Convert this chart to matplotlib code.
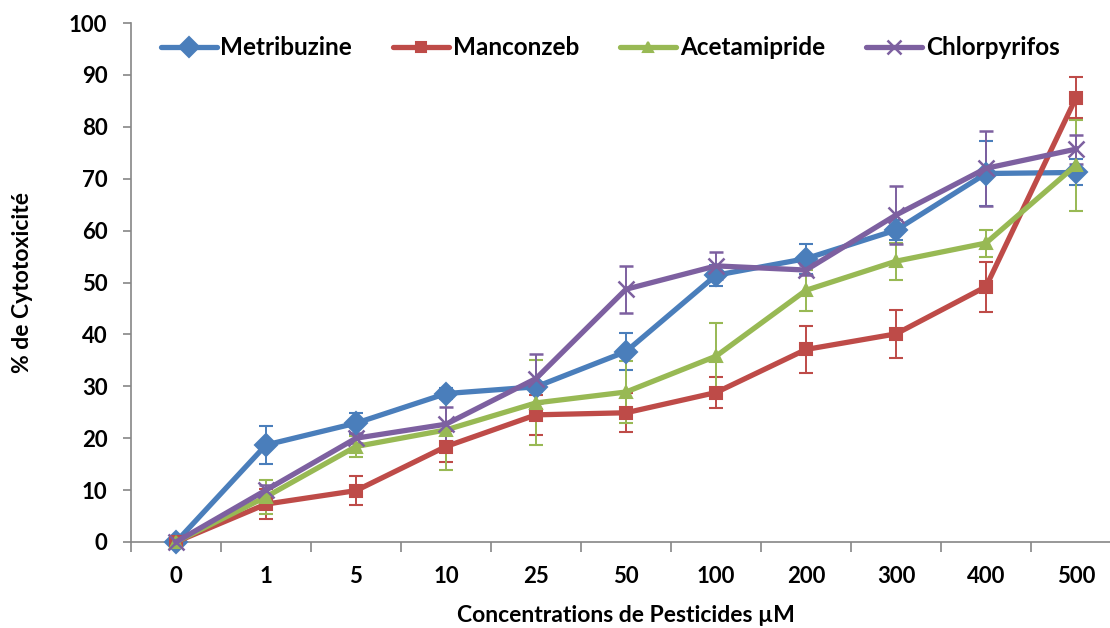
import matplotlib
matplotlib.use("Agg")
import matplotlib.pyplot as plt
from matplotlib.lines import Line2D
import numpy as np

plt.rcParams['font.family'] = ['Lato', 'DejaVu Sans']

categories = ["0", "1", "5", "10", "25", "50", "100", "200", "300", "400", "500"]

metribuzine = [0, 18.7, 22.9, 28.6, 29.9, 36.7, 51.4, 54.6, 60.1, 71.0, 71.2]
metribuzine_err = [0, 3.6, 2.0, 1.0, 1.0, 3.6, 2.0, 2.9, 2.0, 6.3, 2.5]

manconzeb = [0, 7.3, 9.9, 18.4, 24.5, 24.9, 28.8, 37.1, 40.1, 49.2, 85.6]
manconzeb_err = [0, 2.9, 2.8, 2.9, 3.8, 3.8, 3.0, 4.5, 4.6, 4.8, 4.0]

acetamipride = [0, 8.7, 18.4, 21.6, 26.8, 28.9, 35.8, 48.5, 54.1, 57.6, 72.6]
acetamipride_err = [0, 3.3, 2.0, 7.7, 8.2, 6.0, 6.4, 4.0, 3.6, 2.6, 8.8]

chlorpyrifos = [0, 10.0, 20.0, 22.7, 31.5, 48.7, 53.2, 52.4, 63.0, 72.0, 75.7]
chlorpyrifos_err = [0, 1.0, 1.0, 3.3, 4.7, 4.5, 2.6, 1.0, 5.5, 7.2, 2.8]

series = [
    ("Metribuzine", metribuzine, metribuzine_err, "#4A7EBB", "D", 11.5),
    ("Manconzeb", manconzeb, manconzeb_err, "#BE4B48", "s", 8.5),
    ("Acetamipride", acetamipride, acetamipride_err, "#98B954", "^", 9),
    ("Chlorpyrifos", chlorpyrifos, chlorpyrifos_err, "#7D60A0", "x", 12),
]

fig = plt.figure(figsize=(11.10, 6.28), dpi=100)
ax = fig.add_axes([131/1110, 86/628, 990/1110, 519/628])

x = np.arange(len(categories))
handles = []
for name, vals, errs, color, marker, ms in series:
    mew = 1.8 if marker == "x" else 1.5
    ax.errorbar(x, vals, yerr=errs, color=color, linewidth=3.8, marker=marker,
                markersize=ms, markeredgewidth=mew,
                ecolor=color, elinewidth=1.4, capsize=5, capthick=1.4,
                zorder=3, clip_on=False)
    handles.append(Line2D([], [], color=color, linewidth=3.8, marker=marker,
                          markersize=ms * 0.85, markeredgewidth=mew, label=name,
                          solid_capstyle='round'))

ax.set_xlim(-0.5, len(categories) - 0.5)
ax.set_ylim(0, 100)
ax.set_yticks(np.arange(0, 101, 10))
ax.set_xticks(x)
ax.set_xticklabels(categories)
ax.set_xticks(np.arange(-0.5, len(categories), 1), minor=True)
ax.tick_params(axis='x', which='major', length=0, pad=17)
ax.tick_params(axis='x', which='minor', length=7, width=1.2, color='#868686', direction='out')
ax.tick_params(axis='y', length=6, width=1.2, color='#868686', direction='out', pad=11)
for lab in ax.get_xticklabels() + ax.get_yticklabels():
    lab.set_fontsize(16)
    lab.set_fontweight('bold')

for s in ['top', 'right']:
    ax.spines[s].set_visible(False)
for s in ['left', 'bottom']:
    ax.spines[s].set_color('#868686')
    ax.spines[s].set_linewidth(1.2)

ax.set_ylabel("% de Cytotoxicité", fontsize=16.5, fontweight='bold', labelpad=26)
ax.set_xlabel("Concentrations de Pesticides µM", fontsize=16.5, fontweight='bold', labelpad=13)

leg = ax.legend(handles=handles, loc='center left', bbox_to_anchor=(0.030, 0.952), ncol=4,
                frameon=False, prop={'size': 17.5, 'weight': 'bold'}, handlelength=2.3,
                columnspacing=1.7, handletextpad=0.15, borderaxespad=0, borderpad=0)

fig.savefig("out.png", dpi=100)
